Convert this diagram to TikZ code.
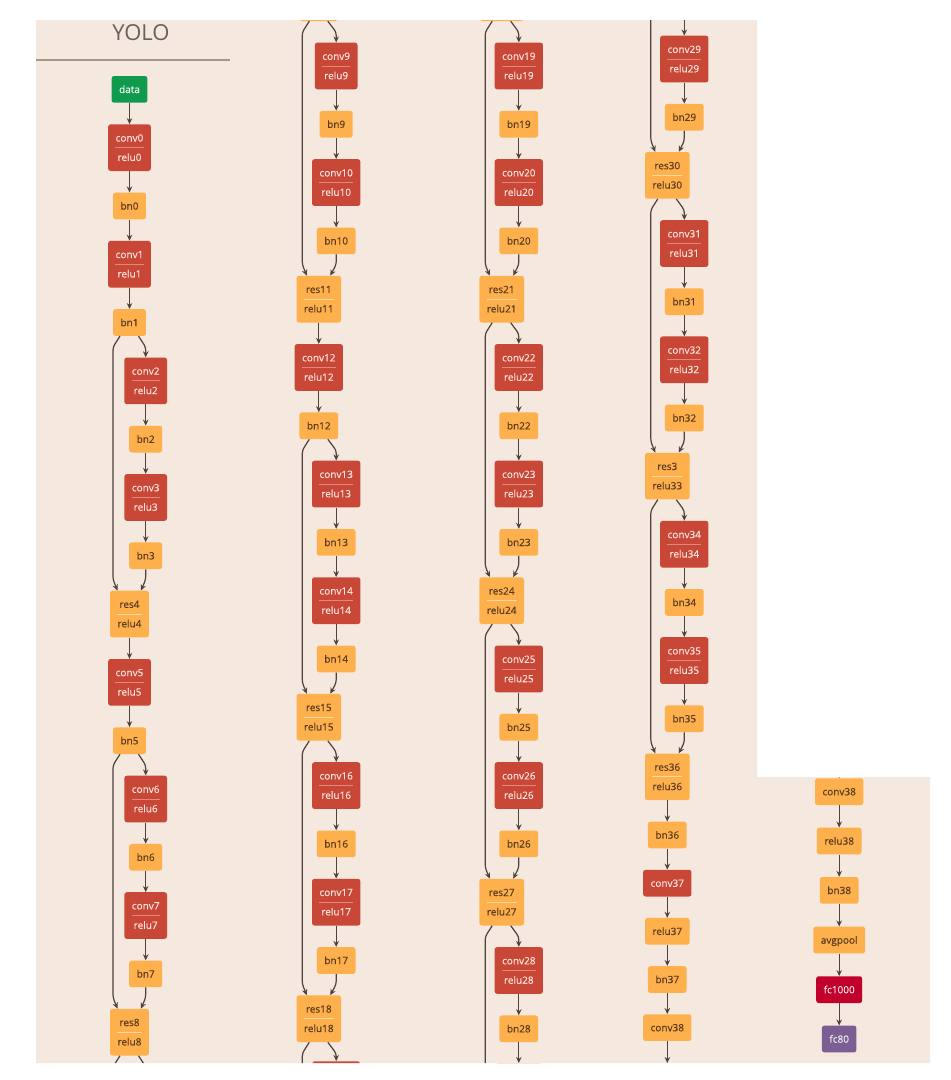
\documentclass[tikz,border=0pt]{standalone}
\usepackage{fontspec}
\setmainfont{Open Sans}[FakeBold=0.35]
\newfontfamily\titlefont{Open Sans}
\usetikzlibrary{arrows.meta,calc}
\definecolor{bg}{HTML}{F5E8DE}
\definecolor{redc}{HTML}{C84737}
\definecolor{orc}{HTML}{FDB04B}
\definecolor{grc}{HTML}{0F9A4E}
\definecolor{fcc}{HTML}{C1002B}
\definecolor{puc}{HTML}{7B5E94}
\definecolor{edgec}{HTML}{4D423D}
\definecolor{ortext}{HTML}{5B3A1F}
\definecolor{redtext}{HTML}{FBE4DD}
\definecolor{sepredc}{HTML}{E2887A}
\definecolor{seporc}{HTML}{FFD8A2}
\definecolor{titlec}{HTML}{6B605A}
\definecolor{rulec}{HTML}{A69686}
\tikzset{
  box/.style={rectangle, rounded corners=2.5pt, inner xsep=7.5pt, inner ysep=0pt},
  sgl/.style={box, minimum height=26.7pt, text height=7.3pt, text depth=0pt, font=\fontsize{10}{12}\selectfont},
  dbl/.style={box, minimum height=46.7pt, align=center, font=\fontsize{10}{19.4}\selectfont},
  cut/.style={box, minimum height=46.7pt},
  rednode/.style={fill=redc, text=redtext},
  ornode/.style={fill=orc, text=ortext},
  grnode/.style={fill=grc, text=white!92!grc},
  fcnode/.style={fill=fcc, text=white!90!fcc},
  punode/.style={fill=puc, text=white!88!puc},
  redsep/.style={draw=sepredc, line width=0.8pt},
  orsep/.style={draw=seporc, line width=0.8pt},
  arr/.style={draw=edgec, line width=1.2pt, rounded corners=3pt,
    -{Stealth[length=6pt,width=5.5pt,inset=2pt]}},
  ln/.style={draw=edgec, line width=1.2pt, rounded corners=3pt},
}
\newcommand\Sn[4]{\node[sgl,#1node] (#2) at (#3) {#4};}
\newcommand\Dn[5]{\node[dbl,#1node] (#2) at (#3) {#4\\#5};
  \draw[#1sep] ([xshift=7.5pt]#2.west) -- ([xshift=-7.5pt]#2.east);}
\newcommand\Cn[4]{\node[cut,#1node,minimum width=#4] (#2) at (#3) {};}
\newcommand\Str[2]{\draw[arr] (#1) -- (#2);}
\newcommand\Br[2]{\draw[arr] ($(#1.south)+(9,0)$) -- ($(#1.south -| #2.north)+(0,11)$) -- (#2.north);}
\newcommand\Mg[2]{\draw[arr] (#1.south) -- ($(#2.north -| #1.south)+(0,-11)$) -- ($(#2.north)+(11.5,0)$);}
\newcommand\Sk[2]{\draw[arr] ($(#1.south)+(-9.5,0)$) -- ($(#1.south)+(-16.5,11)$) -- ($(#2.north)+(-16.5,-11)$) -- ($(#2.north)+(-12,0)$);}
\begin{document}
\begin{tikzpicture}[x=1pt,y=-1pt]
\useasboundingbox (0,0) rectangle (951,1080);
\fill[bg] (36,20) rectangle (757,1063) (757,777) rectangle (930,1063);
\node[text=titlec, font=\titlefont\fontsize{22}{26}\selectfont] (title) at (141,32.5) {YOLO};
\draw[rulec, line width=1.5pt] (36,60) -- (230,60);
\begin{scope}
\clip (36,20) rectangle (757,1063) (757,777) rectangle (930,1063);
% ---------- column 1
\Sn{gr}{data}{129.5,89.35}{data}
\Dn{red}{conv0}{129.5,147.65}{conv0}{relu0}
\Sn{or}{bn0}{129.5,205.95}{bn0}
\Dn{red}{conv1}{129.5,264.25}{conv1}{relu1}
\Sn{or}{bn1}{129.5,322.55}{bn1}
\Dn{red}{conv2}{145.7,380.85}{conv2}{relu2}
\Sn{or}{bn2}{145.7,439.15}{bn2}
\Dn{red}{conv3}{145.7,497.45}{conv3}{relu3}
\Sn{or}{bn3}{145.7,555.75}{bn3}
\Dn{or}{res4}{129.5,614.05}{res4}{relu4}
\Dn{red}{conv5}{129.5,682.35}{conv5}{relu5}
\Sn{or}{bn5}{129.5,740.65}{bn5}
\Dn{red}{conv6}{145.7,798.95}{conv6}{relu6}
\Sn{or}{bn6}{145.7,857.25}{bn6}
\Dn{red}{conv7}{145.7,915.55}{conv7}{relu7}
\Sn{or}{bn7}{145.7,973.85}{bn7}
\Dn{or}{res8}{129.5,1032.15}{res8}{relu8}
\Str{data}{conv0}\Str{conv0}{bn0}\Str{bn0}{conv1}\Str{conv1}{bn1}
\Br{bn1}{conv2}\Sk{bn1}{res4}
\Str{conv2}{bn2}\Str{bn2}{conv3}\Str{conv3}{bn3}\Mg{bn3}{res4}
\Str{res4}{conv5}\Str{conv5}{bn5}
\Br{bn5}{conv6}\Sk{bn5}{res8}
\Str{conv6}{bn6}\Str{bn6}{conv7}\Str{conv7}{bn7}\Mg{bn7}{res8}
\draw[ln] ($(res8.south)+(9,0)$) -- ($(res8.south)+(16.2,11)$) -- ++(0,40);
\draw[ln] ($(res8.south)+(-9.5,0)$) -- ($(res8.south)+(-16.5,11)$) -- ++(0,40);
% ---------- column 2
\Cn{or}{res8c}{318.8,-2.35}{38pt}
\Dn{red}{conv9}{336.2,65.95}{conv9}{relu9}
\Sn{or}{bn9}{336.2,124.25}{bn9}
\Dn{red}{conv10}{336.2,182.55}{conv10}{relu10}
\Sn{or}{bn10}{336.2,240.85}{bn10}
\Dn{or}{res11}{318.8,299.15}{res11}{relu11}
\Dn{red}{conv12}{318.8,367.45}{conv12}{relu12}
\Sn{or}{bn12}{318.8,425.75}{bn12}
\Dn{red}{conv13}{336.2,484.05}{conv13}{relu13}
\Sn{or}{bn13}{336.2,542.35}{bn13}
\Dn{red}{conv14}{336.2,600.65}{conv14}{relu14}
\Sn{or}{bn14}{336.2,658.95}{bn14}
\Dn{or}{res15}{318.8,717.25}{res15}{relu15}
\Dn{red}{conv16}{336.2,785.55}{conv16}{relu16}
\Sn{or}{bn16}{336.2,843.85}{bn16}
\Dn{red}{conv17}{336.2,902.15}{conv17}{relu17}
\Sn{or}{bn17}{336.2,960.45}{bn17}
\Dn{or}{res18}{318.8,1018.75}{res18}{relu18}
\Cn{red}{conv19c}{336.2,1084.6}{47.7pt}
\Br{res8c}{conv9}\Sk{res8c}{res11}
\Str{conv9}{bn9}\Str{bn9}{conv10}\Str{conv10}{bn10}\Mg{bn10}{res11}
\Str{res11}{conv12}\Str{conv12}{bn12}
\Br{bn12}{conv13}\Sk{bn12}{res15}
\Str{conv13}{bn13}\Str{bn13}{conv14}\Str{conv14}{bn14}\Mg{bn14}{res15}
\Br{res15}{conv16}\Sk{res15}{res18}
\Str{conv16}{bn16}\Str{bn16}{conv17}\Str{conv17}{bn17}\Mg{bn17}{res18}
\Br{res18}{conv19c}
\draw[ln] ($(res18.south)+(-9.5,0)$) -- ($(res18.south)+(-16.5,11)$) -- ++(0,40);
% ---------- column 3
\Cn{or}{res18c}{501.7,-2.35}{43.3pt}
\Dn{red}{conv19}{518.8,65.95}{conv19}{relu19}
\Sn{or}{bn19}{518.8,124.25}{bn19}
\Dn{red}{conv20}{518.8,182.55}{conv20}{relu20}
\Sn{or}{bn20}{518.8,240.85}{bn20}
\Dn{or}{res21}{501.7,299.15}{res21}{relu21}
\Dn{red}{conv22}{518.8,367.45}{conv22}{relu22}
\Sn{or}{bn22}{518.8,425.75}{bn22}
\Dn{red}{conv23}{518.8,484.05}{conv23}{relu23}
\Sn{or}{bn23}{518.8,542.35}{bn23}
\Dn{or}{res24}{501.7,600.65}{res24}{relu24}
\Dn{red}{conv25}{518.8,668.95}{conv25}{relu25}
\Sn{or}{bn25}{518.8,727.25}{bn25}
\Dn{red}{conv26}{518.8,785.55}{conv26}{relu26}
\Sn{or}{bn26}{518.8,843.85}{bn26}
\Dn{or}{res27}{501.7,902.15}{res27}{relu27}
\Dn{red}{conv28}{518.8,970.45}{conv28}{relu28}
\Sn{or}{bn28}{518.8,1028.75}{bn28}
\Cn{red}{conv29c}{518.8,1086.5}{47.7pt}
\Br{res18c}{conv19}\Sk{res18c}{res21}
\Str{conv19}{bn19}\Str{bn19}{conv20}\Str{conv20}{bn20}\Mg{bn20}{res21}
\Br{res21}{conv22}\Sk{res21}{res24}
\Str{conv22}{bn22}\Str{bn22}{conv23}\Str{conv23}{bn23}\Mg{bn23}{res24}
\Br{res24}{conv25}\Sk{res24}{res27}
\Str{conv25}{bn25}\Str{bn25}{conv26}\Str{conv26}{bn26}\Mg{bn26}{res27}
\Br{res27}{conv28}
\draw[ln] ($(res27.south)+(-9.5,0)$) -- ($(res27.south)+(-16.5,11)$) -- ++(0,200);
\Str{conv28}{bn28}\Str{bn28}{conv29c}
% ---------- column 4
\Dn{red}{conv29}{684.3,59.05}{conv29}{relu29}
\Sn{or}{bn29}{684.3,117.2}{bn29}
\Dn{or}{res30}{667.3,175.35}{res30}{relu30}
\Dn{red}{conv31}{684.3,243.5}{conv31}{relu31}
\Sn{or}{bn31}{684.3,301.65}{bn31}
\Dn{red}{conv32}{684.3,359.8}{conv32}{relu32}
\Sn{or}{bn32}{684.3,417.95}{bn32}
\Dn{or}{res3}{667.3,476.1}{res3}{relu33}
\Dn{red}{conv34}{684.3,544.25}{conv34}{relu34}
\Sn{or}{bn34}{684.3,602.4}{bn34}
\Dn{red}{conv35}{684.3,660.55}{conv35}{relu35}
\Sn{or}{bn35}{684.3,718.7}{bn35}
\Dn{or}{res36}{667.3,776.85}{res36}{relu36}
\Sn{or}{bn36}{667.3,835.0}{bn36}
\Sn{red}{conv37}{667.3,883.15}{conv37}
\Sn{or}{relu37}{667.3,931.3}{relu37}
\Sn{or}{bn37}{667.3,979.45}{bn37}
\Sn{or}{conv38}{667.3,1027.6}{conv38}
\coordinate (top4) at (684.3,0);
\coordinate (skip4) at (650.8,0);
\coordinate (end4) at (667.3,1063);
\draw[arr] (top4) -- (conv29.north);
\draw[arr] (skip4) -- ($(res30.north)+(-16.5,-11)$) -- ($(res30.north)+(-12,0)$);
\Str{conv29}{bn29}\Mg{bn29}{res30}
\Br{res30}{conv31}\Sk{res30}{res3}
\Str{conv31}{bn31}\Str{bn31}{conv32}\Str{conv32}{bn32}\Mg{bn32}{res3}
\Br{res3}{conv34}\Sk{res3}{res36}
\Str{conv34}{bn34}\Str{bn34}{conv35}\Str{conv35}{bn35}\Mg{bn35}{res36}
\Str{res36}{bn36}\Str{bn36}{conv37}\Str{conv37}{relu37}\Str{relu37}{bn37}\Str{bn37}{conv38}
\draw[arr] (conv38.south) -- (end4);
% ---------- column 5
\Sn{or}{conv38b}{839.2,791.65}{conv38}
\Sn{or}{relu38}{839.2,841.0}{relu38}
\Sn{or}{bn38}{839.2,890.35}{bn38}
\Sn{or}{avgpool}{839.2,940.0}{avgpool}
\Sn{fc}{fc1000}{839.2,989.65}{fc1000}
\Sn{pu}{fc80}{839.2,1039.0}{fc80}
\coordinate (top5) at (839.2,760);
\draw[arr] (top5) -- (conv38b.north);
\Str{conv38b}{relu38}\Str{relu38}{bn38}\Str{bn38}{avgpool}\Str{avgpool}{fc1000}\Str{fc1000}{fc80}
\end{scope}
\end{tikzpicture}
\end{document}
